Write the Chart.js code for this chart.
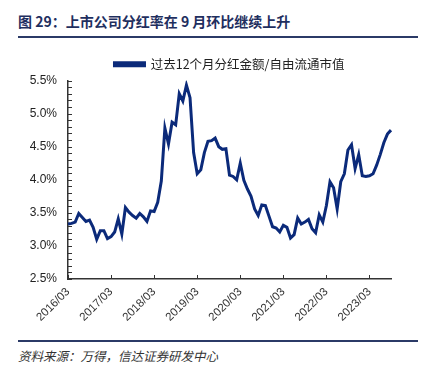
<!DOCTYPE html>
<html>
<head>
<meta charset="utf-8">
<script src="https://cdn.jsdelivr.net/npm/chart.js@4"></script>
<style>
  body { margin: 0; background: #fff; width: 432px; height: 373px; position: relative; overflow: hidden; }
  .title { position: absolute; left: 18px; top: 11px; font: bold 14px "Noto Sans CJK SC", sans-serif; color: #1f2f5f; white-space: nowrap; }
  .rule { position: absolute; left: 18px; width: 400px; height: 2px; background: #2b3a67; }
  .source { position: absolute; left: 18px; top: 346px; font: italic 12.5px "Noto Sans CJK SC", sans-serif; color: #333; white-space: nowrap; }
  #chart { position: absolute; left: 0; top: 40px; }
</style>
</head>
<body>
<div class="title">图 29：上市公司分红率在 9 月环比继续上升</div>
<div class="rule" style="top:36px"></div>
<canvas id="chart" width="432" height="300"></canvas>
<div class="rule" style="top:340px"></div>
<div class="source">资料来源：万得，信达证券研发中心</div>
<script>
// monthly, 2016/03 .. 2023/09
const seriesName = '过去12个月分红金额/自由流通市值';
const dividendYield = [
    3.33, 3.34, 3.36, 3.49, 3.43, 3.37, 3.39, 3.28, 3.10, 3.23, 3.23, 3.11,
    3.14, 3.21, 3.41, 3.18, 3.58, 3.51, 3.46, 3.42, 3.49, 3.44, 3.37, 3.53,
    3.52, 3.66, 3.98, 4.78, 4.54, 4.87, 4.83, 5.30, 5.19, 5.43, 5.24, 4.41,
    4.09, 4.15, 4.41, 4.58, 4.59, 4.63, 4.50, 4.46, 4.47, 4.07, 4.05, 4.00,
    4.25, 3.99, 3.86, 3.75, 3.56, 3.46, 3.62, 3.61, 3.45, 3.29, 3.27, 3.21,
    3.31, 3.28, 3.12, 3.17, 3.42, 3.33, 3.36, 3.40, 3.26, 3.20, 3.47, 3.36,
    3.61, 3.97, 3.88, 3.56, 3.97, 4.09, 4.45, 4.53, 4.17, 4.38, 4.06, 4.05,
    4.06, 4.09, 4.22, 4.38, 4.56, 4.69, 4.75
];
const xTickLabels = ['2016/03', '2017/03', '2018/03', '2019/03', '2020/03', '2021/03', '2022/03', '2023/03'];
const yMin = 2.5, yMax = 5.5, yStep = 0.5, yMinorStep = 0.1;

const months = [];
for (let i = 0; i < dividendYield.length; i++) {
    const m = 2 + i; // March = index 2
    const year = 2016 + Math.floor(m / 12);
    months.push(year + '/' + String(m % 12 + 1).padStart(2, '0'));
}

const axisColor = '#333';

// short tick marks pointing into the plot, like the source chart
const innerTicks = {
    id: 'innerTicks',
    afterDraw(chart) {
        const { ctx, chartArea, scales: { x, y } } = chart;
        ctx.save();
        ctx.strokeStyle = axisColor;
        ctx.lineWidth = 1;
        ctx.beginPath();
        const n = Math.round((yMax - yMin) / yMinorStep);
        for (let k = 0; k <= n; k++) {
            const py = Math.round(y.getPixelForValue(yMin + k * yMinorStep)) + 0.5;
            ctx.moveTo(chartArea.left, py);
            ctx.lineTo(chartArea.left + 4, py);
        }
        xTickLabels.forEach(l => {
            const px = Math.round(x.getPixelForValue(months.indexOf(l))) + 0.5;
            ctx.moveTo(px, chartArea.bottom);
            ctx.lineTo(px, chartArea.bottom - 4);
        });
        ctx.stroke();
        ctx.restore();
    }
};

new Chart(document.getElementById('chart'), {
    type: 'line',
    data: {
        labels: months,
        datasets: [{
            label: seriesName,
            data: dividendYield,
            borderColor: '#0b2a7a',
            backgroundColor: '#0b2a7a',
            borderWidth: 3,
            pointRadius: 0,
            tension: 0
        }]
    },
    options: {
        responsive: false,
        animation: false,
        devicePixelRatio: 1,
        layout: { padding: { top: 8, right: 41, bottom: 0, left: 0 } },
        plugins: {
            legend: {
                fullSize: false,
                labels: {
                    boxWidth: 30,
                    boxHeight: 3,
                    padding: 10,
                    color: '#222',
                    font: { family: '"Noto Sans CJK SC", sans-serif', size: 12.5 }
                }
            },
            tooltip: { enabled: false }
        },
        scales: {
            x: {
                grid: { display: false, drawTicks: false },
                border: { display: true, color: axisColor, width: 1.5 },
                afterFit: s => { s.height = 61; },
                ticks: {
                    autoSkip: false,
                    minRotation: 45,
                    maxRotation: 45,
                    padding: 6,
                    color: '#333',
                    font: { family: 'Arial, "Liberation Sans", sans-serif', size: 11.5 },
                    callback: function (v) {
                        const l = this.getLabelForValue(v);
                        return xTickLabels.includes(l) ? l : '';
                    }
                }
            },
            y: {
                min: yMin,
                max: yMax,
                grid: { display: false, drawTicks: false },
                border: { display: true, color: axisColor, width: 1.5 },
                afterFit: s => { s.width = 68; },
                ticks: {
                    stepSize: yStep,
                    padding: 11,
                    color: '#222',
                    font: { family: 'Arial, "Liberation Sans", sans-serif', size: 12 },
                    callback: v => v.toFixed(1) + '%'
                }
            }
        }
    },
    plugins: [innerTicks]
});
</script>
</body>
</html>
